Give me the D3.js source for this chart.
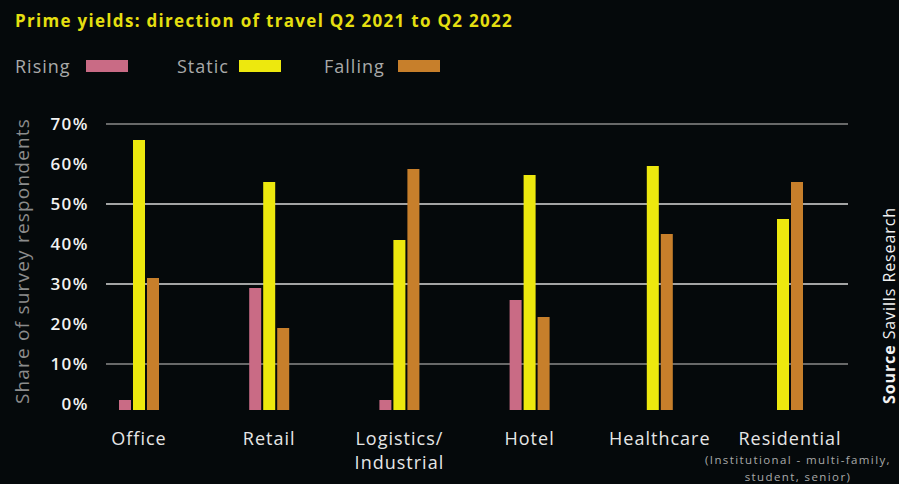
<!DOCTYPE html>
<meta charset="utf-8">
<style>
  body { margin: 0; background: #05090b; }
  text { font-family: "Open Sans", "Noto Sans", sans-serif; }
</style>
<body></body>
<script src="https://d3js.org/d3.v7.min.js"></script>
<script>

var categories = ["Office", "Retail", "Logistics/\nIndustrial", "Hotel", "Healthcare", "Residential"];
var seriesNames = ["Rising", "Static", "Falling"];
var rising  = [1, 29, 1, 26, null, null];
var stat    = [66, 55.5, 41, 57.25, 59.5, 46.25];
var falling = [31.5, 19, 58.75, 21.75, 42.5, 55.5];
var yTicks = [0, 10, 20, 30, 40, 50, 60, 70];
var colors = ["#c96b85", "#ede80e", "#c77f2b"];

var width = 899,
    height = 484;

var svg = d3.select("body").append("svg")
    .attr("width", width)
    .attr("height", height);

svg.append("rect").attr("width", width).attr("height", height).attr("fill", "#05090b");

var x = d3.scalePoint().domain(categories).range([139, 790]);
var y = d3.scaleLinear().domain([0, 70]).range([404, 124]);
var color = d3.scaleOrdinal().domain(seriesNames).range(colors);

// title
svg.append("text")
    .attr("x", 15).attr("y", 27)
    .attr("fill", "#e4df10")
    .style("font-size", "17px").style("font-weight", 700)
    .style("letter-spacing", "1.3px")
    .text("Prime yields: direction of travel Q2 2021 to Q2 2022");

// legend
var legX = [15, 177, 324];
var legend = svg.selectAll("g.leg").data(seriesNames).enter().append("g")
    .attr("class", "leg")
    .attr("transform", function(d, i) { return "translate(" + legX[i] + ",0)"; });
legend.append("text")
    .attr("y", 73)
    .attr("fill", "#a9a9a9")
    .style("font-size", "18px").style("letter-spacing", "1px")
    .text(function(d) { return d; });
legend.append("rect")
    .attr("x", function(d, i) { return [71, 62, 74][i]; })
    .attr("y", 60).attr("width", 42).attr("height", 12)
    .attr("fill", function(d) { return color(d); });

// gridlines
var gridCol = { 70: "#8a8a8a", 50: "#d8d8d8", 30: "#d8d8d8", 10: "#8a8a8a" };
svg.selectAll("line.grid").data([70, 50, 30, 10]).enter().append("line")
    .attr("x1", 106).attr("x2", 848)
    .attr("y1", function(d) { return y(d); })
    .attr("y2", function(d) { return y(d); })
    .attr("stroke", function(d) { return gridCol[d]; })
    .attr("stroke-width", 1.5);

// y axis
var yAxis = svg.append("g")
    .attr("transform", "translate(89,0)")
    .call(d3.axisLeft(y).tickValues(yTicks).tickSize(0).tickPadding(0)
      .tickFormat(function(d) { return d + "%"; }));
yAxis.select(".domain").remove();
yAxis.selectAll("text")
    .attr("fill", "#f2f2f2")
    .style("font-size", "17px").style("font-weight", 600)
    .style("letter-spacing", "1.5px");

svg.append("text")
    .attr("transform", "translate(29,261) rotate(-90)")
    .attr("text-anchor", "middle")
    .attr("fill", "#8c8c8c")
    .style("font-size", "19px").style("letter-spacing", "1.2px")
    .text("Share of survey respondents");

// bars
var rows = categories.map(function(c, i) {
  return { cat: c, vals: [rising[i], stat[i], falling[i]] };
});
var groups = svg.selectAll("g.grp").data(rows).enter().append("g")
    .attr("class", "grp")
    .attr("transform", function(d) { return "translate(" + x(d.cat) + ",0)"; });

groups.each(function(d) {
  var items = seriesNames.map(function(s, i) { return { s: s, v: d.vals[i] }; })
      .filter(function(e) { return e.v != null; });
  var n = items.length;
  var x1 = d3.scaleBand().domain(items.map(function(e) { return e.s; }))
      .range([-n * 7, n * 7]).paddingInner(1 / 7).paddingOuter(1 / 14);
  d3.select(this).selectAll("rect").data(items).enter().append("rect")
      .attr("x", function(e) { return x1(e.s); })
      .attr("width", x1.bandwidth())
      .attr("y", function(e) { return y(e.v); })
      .attr("height", function(e) { return y(0) + 6 - y(e.v); })
      .attr("fill", function(e) { return color(e.s); });
});

// category labels
groups.each(function(d) {
  var lines = d.cat.split("\n");
  var g = d3.select(this);
  lines.forEach(function(l, i) {
    g.append("text")
      .attr("y", 445 + i * 24)
      .attr("text-anchor", "middle")
      .attr("fill", "#e6e6e6")
      .style("font-size", "18px").style("letter-spacing", "1px")
      .text(l);
  });
  if (d.cat === "Residential") {
    ["(Institutional - multi-family,", "student, senior)"].forEach(function(l, i) {
      g.append("text")
        .attr("x", 8)
        .attr("y", 464 + i * 16.5)
        .attr("text-anchor", "middle")
        .attr("fill", "#a9a9a9")
        .style("font-size", "11.5px").style("letter-spacing", "1.4px")
        .text(l);
    });
  }
});

// source
var src = svg.append("text")
    .attr("transform", "translate(895,404) rotate(-90)")
    .attr("fill", "#f2f2f2")
    .style("font-size", "16px").style("letter-spacing", "0.9px");
src.append("tspan").style("font-weight", 700).text("Source ");
src.append("tspan").text("Savills Research");

</script>
